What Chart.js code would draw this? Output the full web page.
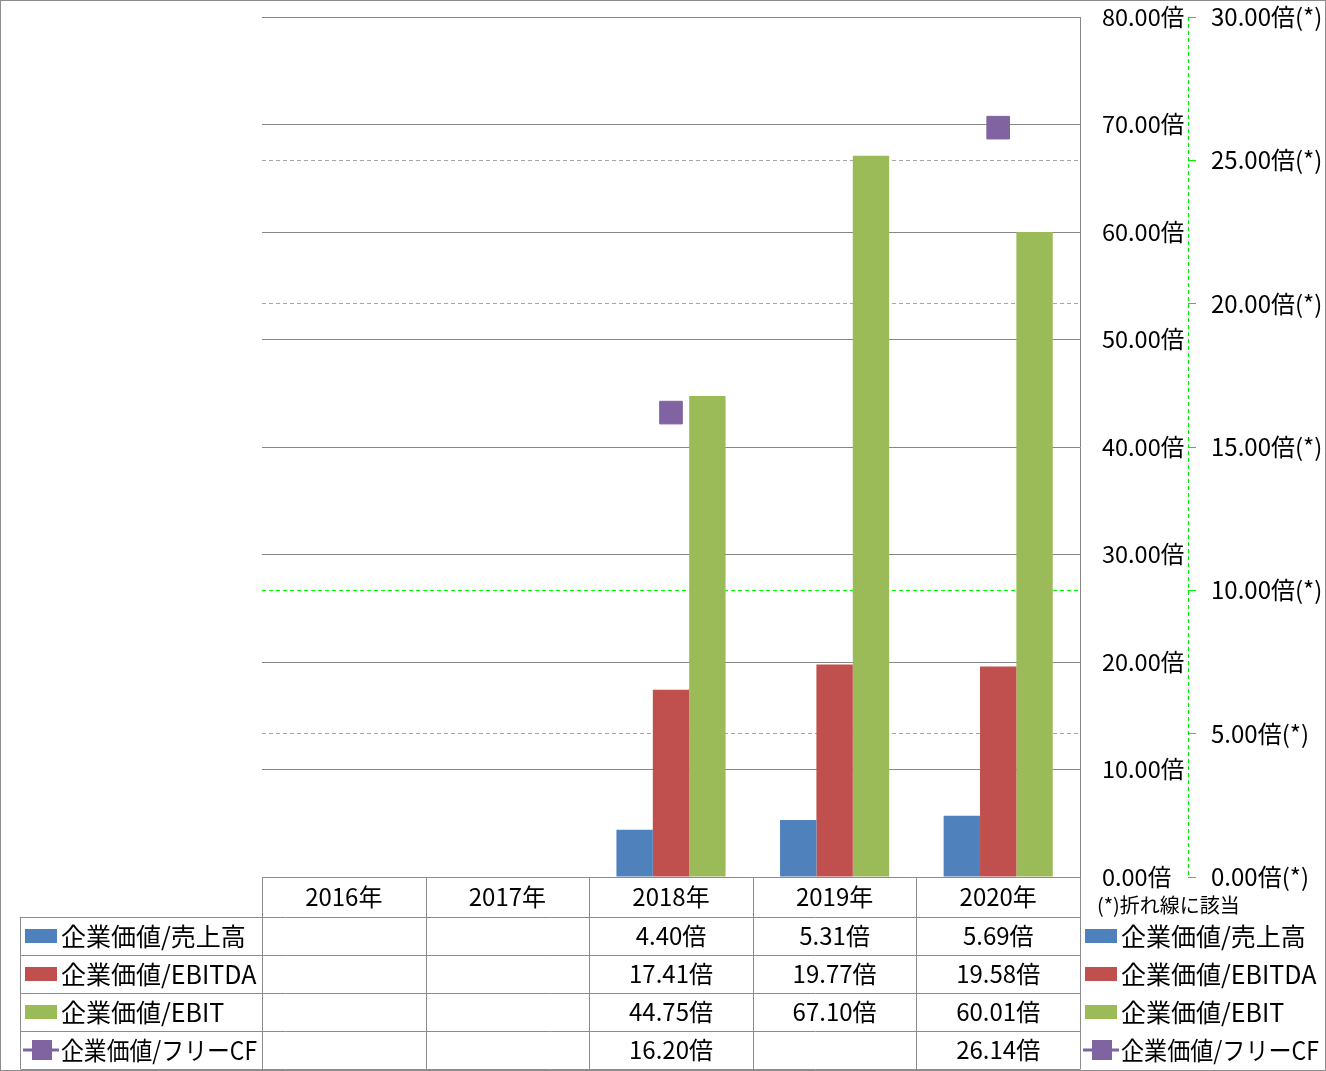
<!DOCTYPE html>
<html>
<head>
<meta charset="utf-8">
<script src="https://cdn.jsdelivr.net/npm/chart.js@4/dist/chart.umd.min.js"></script>
<style>
html, body { margin: 0; padding: 0; background: #fff; }
#wrap { width: 1326px; height: 1071px; }
</style>
</head>
<body>
<div id="wrap"><canvas id="myChart" width="1326" height="1071"></canvas></div>
<script>
// データ
const years = ['2016年', '2017年', '2018年', '2019年', '2020年'];
const evSales = [null, null, 4.40, 5.31, 5.69];
const evEbitda = [null, null, 17.41, 19.77, 19.58];
const evEbit = [null, null, 44.75, 67.10, 60.01];
const evFcf = [null, null, 16.20, null, 26.14];
const seriesNames = ['企業価値/売上高', '企業価値/EBITDA', '企業価値/EBIT', '企業価値/フリーCF'];
const colors = ['#4F81BD', '#C0504D', '#9BBB59', '#8064A2'];

const FONT = "'Noto Sans CJK JP', 'Noto Sans', sans-serif";
const lineGray = '#8c8c8c';

function fmt(v, suffix) {
    return v === null ? '' : v.toFixed(2) + suffix;
}

// 軸ラベルのはみ出し分を無視して、描画領域の上端を固定する
function noOverhang(scale, width) {
    scale.width = width;
    scale.paddingTop = 0;
    scale.paddingBottom = 0;
}

// 表と凡例を描く
const tablePlugin = {
    id: 'dataTable',
    afterDraw(chart) {
        const ctx = chart.ctx;
        const x = chart.scales.x;
        const y2 = chart.scales.y2;
        const area = chart.chartArea;
        const headTop = area.bottom;
        const headH = 40;
        const rowH = 38;
        const legendLeft = 20;
        const rows = [evSales, evEbitda, evEbit, evFcf];
        const bottom = headTop + headH + rowH * rows.length;

        ctx.save();
        // 緑の破線の軸
        ctx.strokeStyle = '#00ee00';
        ctx.lineWidth = 1;
        ctx.setLineDash([4, 3]);
        ctx.beginPath();
        ctx.moveTo(Math.round(y2.left) + 0.5, area.top);
        ctx.lineTo(Math.round(y2.left) + 0.5, area.bottom);
        ctx.stroke();
        ctx.setLineDash([]);

        // 表の線
        ctx.strokeStyle = lineGray;
        ctx.beginPath();
        const edges = [];
        for (let i = 0; i <= years.length; i++) {
            edges.push(Math.round(x.getPixelForValue(i - 0.5)) + 0.5);
        }
        edges.forEach(ex => {
            ctx.moveTo(ex, headTop);
            ctx.lineTo(ex, bottom);
        });
        ctx.moveTo(edges[0], Math.round(headTop) + 0.5);
        ctx.lineTo(edges[edges.length - 1], Math.round(headTop) + 0.5);
        for (let r = 0; r <= rows.length; r++) {
            const ly = Math.round(headTop + headH + r * rowH) + 0.5;
            ctx.moveTo(legendLeft + 0.5, ly);
            ctx.lineTo(edges[edges.length - 1], ly);
        }
        ctx.moveTo(legendLeft + 0.5, headTop + headH);
        ctx.lineTo(legendLeft + 0.5, bottom);
        ctx.stroke();

        // 見出し
        ctx.fillStyle = '#000';
        ctx.font = '24px ' + FONT;
        ctx.textAlign = 'center';
        ctx.textBaseline = 'middle';
        years.forEach((yr, i) => {
            ctx.fillText(yr, x.getPixelForValue(i), headTop + headH / 2);
        });

        // 値
        rows.forEach((vals, r) => {
            const cy = headTop + headH + r * rowH + rowH / 2;
            vals.forEach((v, i) => {
                ctx.fillText(fmt(v, '倍'), x.getPixelForValue(i), cy);
            });
        });

        // 凡例 (左と右)
        const drawKey = (kx, cy, idx) => {
            ctx.fillStyle = colors[idx];
            if (idx < 3) {
                ctx.fillRect(kx, cy - 7, 32, 14);
            } else {
                ctx.fillRect(kx - 2, cy - 1.5, 36, 3);
                ctx.fillRect(kx + 7, cy - 10, 20, 20);
            }
        };
        ctx.textAlign = 'left';
        ctx.font = '25px ' + FONT;
        seriesNames.forEach((name, r) => {
            const cy = headTop + headH + r * rowH + rowH / 2;
            drawKey(25, cy, r);
            drawKey(1085, cy, r);
            ctx.fillStyle = '#000';
            ctx.fillText(name, 61, cy, 196);
            ctx.fillText(name, 1121, cy, 198);
        });

        ctx.font = '20px ' + FONT;
        ctx.fillText('(*)折れ線に該当', 1097, headTop + 28);

        // 外枠
        ctx.strokeStyle = lineGray;
        ctx.strokeRect(0.5, 0.5, chart.width - 1, chart.height - 1);
        ctx.restore();
    }
};

const ctx = document.getElementById('myChart').getContext('2d');
const myChart = new Chart(ctx, {
    type: 'bar',
    data: {
        labels: years,
        datasets: [
            { label: seriesNames[0], data: evSales, backgroundColor: colors[0], yAxisID: 'y', order: 1 },
            { label: seriesNames[1], data: evEbitda, backgroundColor: colors[1], yAxisID: 'y', order: 1 },
            { label: seriesNames[2], data: evEbit, backgroundColor: colors[2], yAxisID: 'y', order: 1 },
            {
                type: 'line', label: seriesNames[3], data: evFcf, yAxisID: 'y2', order: 0,
                borderColor: colors[3], backgroundColor: colors[3], borderWidth: 3,
                pointStyle: 'rect', pointRadius: 16, pointBorderWidth: 1,
                pointBorderColor: colors[3], spanGaps: false
            }
        ]
    },
    options: {
        responsive: false,
        animation: false,
        devicePixelRatio: 1,
        layout: { padding: { left: 262, top: 16, bottom: 194, right: 0 } },
        datasets: { bar: { categoryPercentage: 0.667, barPercentage: 1.0 } },
        plugins: { legend: { display: false }, tooltip: { enabled: false } },
        scales: {
            x: { display: false },
            y: {
                position: 'right',
                min: 0, max: 80,
                afterFit(scale) { noOverhang(scale, 108); },
                ticks: {
                    stepSize: 10,
                    padding: 22,
                    color: '#000',
                    font: { size: 23.5, family: FONT },
                    callback: v => v.toFixed(2) + '倍'
                },
                grid: { color: '#868686', drawTicks: false },
                border: { display: true, color: '#868686' }
            },
            y2: {
                position: 'right',
                min: 0, max: 30,
                afterFit(scale) { noOverhang(scale, 138); },
                ticks: {
                    stepSize: 5,
                    padding: 15,
                    color: '#000',
                    font: { size: 24, family: FONT },
                    callback: v => v.toFixed(2) + '倍(*)'
                },
                grid: {
                    color: c => {
                        const v = c.tick ? c.tick.value : null;
                        if (v === 10) return '#00ff00';
                        if (v === 0 || v === 15 || v === 30) return 'rgba(0,0,0,0)';
                        return '#a6a6a6';
                    },
                    tickColor: '#00ee00',
                    tickLength: 8,
                    tickBorderDash: []
                },
                border: { display: false, dash: [4, 3] }
            }
        }
    },
    plugins: [tablePlugin]
});
</script>
</body>
</html>
